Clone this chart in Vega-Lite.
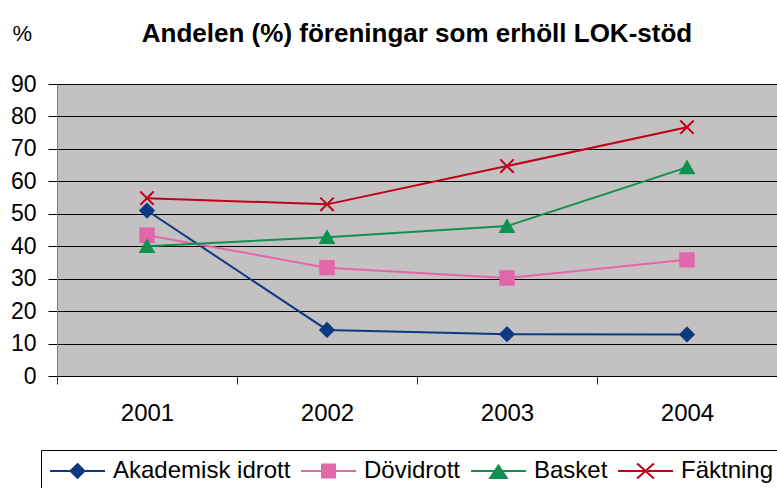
{
  "$schema": "https://vega.github.io/schema/vega-lite/v6.json",
  "width": 720,
  "height": 292,
  "autosize": {"type": "none"},
  "padding": {"left": 57, "top": 84, "right": 0, "bottom": 112},
  "background": "white",
  "title": {
    "text": "Andelen (%) föreningar som erhöll LOK-stöd",
    "font": "Liberation Sans",
    "fontSize": 26,
    "fontWeight": "bold",
    "color": "black",
    "anchor": "middle",
    "baseline": "alphabetic",
    "offset": -46
  },
  "config": {
    "font": "Liberation Sans",
    "view": {"stroke": "#808080", "strokeWidth": 1, "fill": "#C3C1C2"},
    "legend": {
      "orient": "none",
      "legendX": -16,
      "legendY": 366,
      "direction": "horizontal",
      "strokeColor": "black",
      "fillColor": "white",
      "padding": 8,
      "labelFont": "Liberation Sans",
      "labelFontSize": 24,
      "labelColor": "black",
      "labelOffset": 38,
      "labelLimit": 0,
      "columnPadding": 6,
      "symbolSize": 576,
      "symbolStrokeWidth": 2,
      "symbolOpacity": 1
    }
  },
  "data": {
    "values": [
      {"series": "Akademisk idrott", "year": "2001", "value": 51.0},
      {"series": "Akademisk idrott", "year": "2002", "value": 14.2},
      {"series": "Akademisk idrott", "year": "2003", "value": 12.9},
      {"series": "Akademisk idrott", "year": "2004", "value": 12.8},
      {"series": "Dövidrott", "year": "2001", "value": 43.4},
      {"series": "Dövidrott", "year": "2002", "value": 33.4},
      {"series": "Dövidrott", "year": "2003", "value": 30.2},
      {"series": "Dövidrott", "year": "2004", "value": 35.8},
      {"series": "Basket", "year": "2001", "value": 40.0},
      {"series": "Basket", "year": "2002", "value": 42.8},
      {"series": "Basket", "year": "2003", "value": 46.2},
      {"series": "Basket", "year": "2004", "value": 64.3},
      {"series": "Fäktning", "year": "2001", "value": 54.8},
      {"series": "Fäktning", "year": "2002", "value": 52.9},
      {"series": "Fäktning", "year": "2003", "value": 64.7},
      {"series": "Fäktning", "year": "2004", "value": 76.7}
    ]
  },
  "encoding": {
    "x": {
      "field": "year",
      "type": "ordinal",
      "scale": {"type": "band", "paddingInner": 0, "paddingOuter": 0},
      "axis": {
        "title": null,
        "labelAngle": 0,
        "labelFontSize": 24,
        "labelColor": "black",
        "labelPadding": 17,
        "tickBand": "extent",
        "tickSize": 8,
        "tickColor": "#333",
        "domainColor": "black",
        "grid": false
      }
    },
    "y": {
      "field": "value",
      "type": "quantitative",
      "scale": {"domain": [0, 90], "nice": false},
      "axis": {
        "values": [0, 10, 20, 30, 40, 50, 60, 70, 80, 90],
        "title": "%",
        "titleAngle": 0,
        "titleFontSize": 22,
        "titleFontWeight": "normal",
        "titleColor": "black",
        "titleAlign": "left",
        "titleBaseline": "alphabetic",
        "titleX": -45,
        "titleY": -44,
        "labelFontSize": 23,
        "labelColor": "black",
        "labelPadding": 12,
        "tickSize": 9,
        "tickColor": "black",
        "domainColor": "#808080",
        "grid": true,
        "gridColor": "black",
        "gridWidth": 1
      }
    }
  },
  "layer": [
    {
      "mark": {"type": "line", "strokeWidth": 2},
      "encoding": {
        "color": {
          "field": "series",
          "type": "nominal",
          "scale": {
            "domain": ["Akademisk idrott", "Dövidrott", "Basket", "Fäktning"],
            "range": ["#0B3A82", "#E266AA", "#0F9150", "#C00018"]
          },
          "legend": null
        }
      }
    },
    {
      "mark": {"type": "point", "filled": true, "opacity": 1, "size": 180, "strokeWidth": 2},
      "encoding": {
        "color": {
          "field": "series",
          "type": "nominal",
          "scale": {
            "domain": ["Akademisk idrott", "Dövidrott", "Basket", "Fäktning"],
            "range": ["#0B3A82", "#E266AA", "#0F9150", "#C00018"]
          },
          "legend": null
        },
        "stroke": {
          "field": "series",
          "type": "nominal",
          "scale": {
            "domain": ["Akademisk idrott", "Dövidrott", "Basket", "Fäktning"],
            "range": ["#0B3A82", "#E266AA", "#0F9150", "#C00018"]
          },
          "legend": null
        },
        "shape": {
          "field": "series",
          "type": "nominal",
          "scale": {
            "domain": ["Akademisk idrott", "Dövidrott", "Basket", "Fäktning"],
            "range": ["diamond", "square", "triangle-up", "M-1,-1L1,1M-1,1L1,-1"]
          },
          "legend": null
        }
      }
    },
    {
      "transform": [{"filter": "datum.value > 1000"}],
      "mark": {"type": "point", "filled": false, "opacity": 1, "strokeWidth": 2},
      "encoding": {
        "color": {
          "field": "series",
          "type": "nominal",
          "scale": {
            "domain": ["Akademisk idrott", "Dövidrott", "Basket", "Fäktning"],
            "range": ["#0B3A82", "#E266AA", "#0F9150", "#C00018"]
          },
          "legend": {"title": null}
        },
        "fill": {
          "field": "series",
          "type": "nominal",
          "scale": {
            "domain": ["Akademisk idrott", "Dövidrott", "Basket", "Fäktning"],
            "range": ["#0B3A82", "#E266AA", "#0F9150", "#C00018"]
          },
          "legend": {"title": null}
        },
        "shape": {
          "field": "series",
          "type": "nominal",
          "scale": {
            "domain": ["Akademisk idrott", "Dövidrott", "Basket", "Fäktning"],
            "range": [
              "M-1,0H3.58M1.29,-0.58L1.87,0L1.29,0.58L0.71,0Z",
              "M-1,0H3.58M0.75,-0.54H1.83V0.54H0.75Z",
              "M-1,0H3.58M1.29,-0.45L1.98,0.58H0.6Z",
              "M-1,0H3.58M0.59,-0.62L1.99,0.62M0.59,0.62L1.99,-0.62"
            ]
          },
          "legend": {"title": null}
        }
      }
    }
  ],
  "resolve": {
    "scale": {"shape": "independent"},
    "legend": {"color": "independent", "fill": "independent", "shape": "independent", "stroke": "independent"}
  }
}
